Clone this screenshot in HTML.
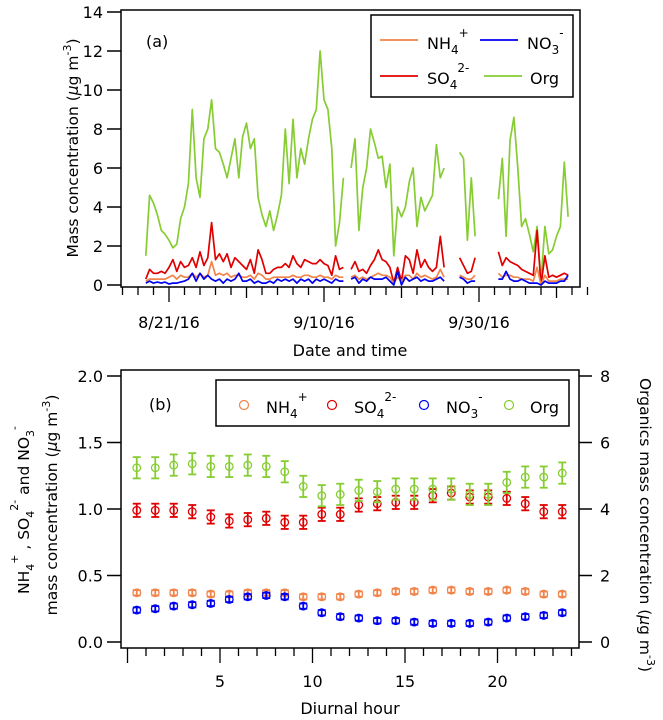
<!DOCTYPE html>
<html><head><meta charset="utf-8"><style>
body{margin:0;background:#fff;}
svg{display:block;font-family:"DejaVu Sans","Liberation Sans",sans-serif;}
</style></head><body>
<svg id="fig" width="663" height="720" viewBox="0 0 663 720" xmlns="http://www.w3.org/2000/svg">
<g id="pa"></g>
<g id="pb"></g>
</svg>
<script>
// ---------- Panel (a) data: days since 8/21/16, step 0.5 day starting at -3 ----------
const tsStartDay = -3;
const tsStepDay = 0.5;
const orgSeries = [1.5,4.6,4.2,3.6,2.8,2.6,2.3,1.9,2.1,3.4,4.0,5.2,9.0,5.5,4.5,7.5,8.0,9.5,7.0,6.8,6.2,5.5,6.5,7.5,5.5,7.6,8.3,7.0,7.5,4.5,3.6,3.0,3.8,2.8,3.6,4.6,8.0,5.2,8.5,5.5,7.0,6.2,7.5,8.5,9.0,12.0,9.5,9.0,7.0,2.0,3.2,5.5,null,6.0,7.5,2.8,5.0,6.0,8.0,7.3,6.5,6.6,5.0,6.2,1.5,4.0,3.5,4.0,5.3,6.0,3.0,4.5,3.8,4.2,4.6,7.2,5.5,6.0,null,null,null,6.8,6.5,2.3,5.5,2.5,null,null,null,null,null,4.4,6.5,2.5,7.4,8.6,6.0,3.0,3.4,2.6,1.7,3.0,0.2,3.0,1.6,1.8,2.5,3.0,6.3,3.5];
const so4Series = [0.3,0.8,0.6,0.6,0.7,0.6,0.9,1.3,0.7,1.2,0.9,1.0,1.4,0.9,1.7,1.0,1.4,3.2,1.3,1.6,1.2,1.6,0.9,1.4,1.2,1.0,0.8,1.3,0.6,1.8,1.3,0.6,0.6,0.8,0.9,0.9,1.1,0.9,1.5,1.1,0.9,1.3,1.2,1.1,1.1,1.3,1.1,1.0,0.5,1.5,0.8,0.9,null,0.8,1.2,0.7,0.8,0.6,1.0,1.3,1.8,1.3,1.2,0.9,0.1,0.9,0.2,1.5,1.3,0.6,1.8,0.9,1.3,0.9,0.7,0.9,2.5,0.9,null,null,null,1.4,1.0,0.6,0.7,1.4,null,null,null,null,null,1.7,1.0,1.4,1.2,1.1,1.0,0.8,0.7,0.6,0.5,2.8,0.0,1.5,0.4,0.5,0.4,0.5,0.6,0.5];
const nh4Series = [0.2,0.3,0.3,0.3,0.3,0.3,0.4,0.5,0.3,0.5,0.4,0.4,0.6,0.4,0.6,0.4,0.5,1.2,0.5,0.6,0.5,0.6,0.4,0.5,0.5,0.4,0.4,0.5,0.3,0.6,0.5,0.3,0.3,0.4,0.4,0.4,0.4,0.4,0.5,0.4,0.4,0.5,0.5,0.4,0.4,0.5,0.4,0.4,0.3,0.5,0.4,0.4,null,0.4,0.5,0.3,0.4,0.3,0.4,0.5,0.6,0.5,0.5,0.4,0.1,0.4,0.2,0.5,0.5,0.3,0.6,0.4,0.5,0.4,0.3,0.4,0.8,0.4,null,null,null,0.5,0.4,0.3,0.3,0.5,null,null,null,null,null,0.6,0.4,0.5,0.5,0.4,0.4,0.3,0.3,0.3,0.2,0.9,0.0,0.5,0.2,0.2,0.2,0.3,0.3,0.3];
const no3Series = [0.1,0.2,0.1,0.15,0.1,0.15,0.05,0.1,0.1,0.15,0.2,0.3,0.6,0.2,0.6,0.3,0.5,0.3,0.2,0.3,0.1,0.3,0.2,0.3,0.6,0.2,0.2,0.3,0.1,0.2,0.1,0.1,0.2,0.1,0.3,0.2,0.3,0.2,0.3,0.1,0.3,0.2,0.3,0.1,0.3,0.2,0.3,0.2,0.1,0.3,0.2,0.2,null,0.3,0.4,0.1,0.3,0.2,0.4,0.3,0.3,0.3,0.4,0.2,0.0,0.7,0.0,0.4,0.2,0.3,0.4,0.2,0.3,0.2,0.2,0.3,0.4,0.2,null,null,null,0.4,0.3,0.1,0.2,0.2,null,null,null,null,null,0.3,0.3,0.7,0.3,0.2,0.2,0.3,0.2,0.1,0.1,0.1,0.0,0.2,0.1,0.1,0.1,0.2,0.2,0.5];
const aYTicks = [0,2,4,6,8,10,12,14];
const aXLabels = ["8/21/16","9/10/16","9/30/16"];
const aXLabelDays = [0,20,40];

// ---------- Panel (b) data: diurnal hours ----------
const hours = [0.5,1.5,2.5,3.5,4.5,5.5,6.5,7.5,8.5,9.5,10.5,11.5,12.5,13.5,14.5,15.5,16.5,17.5,18.5,19.5,20.5,21.5,22.5,23.5];
const nh4Diurnal = [0.37,0.37,0.37,0.37,0.36,0.36,0.37,0.37,0.37,0.34,0.34,0.34,0.36,0.37,0.38,0.38,0.39,0.39,0.38,0.38,0.39,0.38,0.36,0.36];
const so4Diurnal = [0.99,0.99,0.99,0.98,0.94,0.91,0.92,0.93,0.90,0.90,0.96,0.96,1.03,1.04,1.05,1.05,1.10,1.12,1.09,1.09,1.08,1.04,0.98,0.98];
const no3Diurnal = [0.24,0.25,0.27,0.28,0.29,0.32,0.34,0.35,0.34,0.27,0.22,0.19,0.18,0.16,0.16,0.15,0.14,0.14,0.14,0.15,0.18,0.19,0.20,0.22];
const orgDiurnal = [5.24,5.24,5.32,5.36,5.28,5.28,5.32,5.28,5.12,4.68,4.40,4.44,4.56,4.52,4.60,4.60,4.60,4.60,4.44,4.44,4.80,4.96,4.96,5.08];
const nh4Err = 0.02, so4Err = 0.05, no3Err = 0.02, orgErr = 0.32;
const bLeftTicks = ["0.0","0.5","1.0","1.5","2.0"];
const bRightTicks = [0,2,4,6,8];
const bXTicks = [5,10,15,20];

const NS="http://www.w3.org/2000/svg";
function mk(tag, attrs, parent, text){
  const e=document.createElementNS(NS,tag);
  for(const k in attrs) e.setAttribute(k,attrs[k]);
  if(text!==undefined) e.textContent=text;
  parent.appendChild(e); return e;
}
const COL={nh4:"#f0844a",so4:"#e00000",no3:"#0000f0",org:"#86cc32"};

// ===== Panel a =====
const pa=document.getElementById('pa');
const aL=121,aR=580,aT=10,aB=287;
const ay=v=>285-19.5*v;
const ax=d=>169+7.75*d;
let e;
e=mk('rect',{x:aL,y:aT,width:aR-aL,height:aB-aT,fill:'none',stroke:'#000','stroke-width':1.5},pa);


aYTicks.forEach(v=>{
  const l=mk('line',{x1:107,x2:aL,y1:ay(v),y2:ay(v),stroke:'#000','stroke-width':1.5},pa);
  
  
  const t=mk('text',{x:103,y:ay(v)+6,'text-anchor':'end','font-size':16},pa,String(v));
  
  
});
for(let d=-6;d<=54;d+=2){
  const len = (d%20===0)?15:((d%10===0)?11:8);
  const l=mk('line',{x1:ax(d),x2:ax(d),y1:aB,y2:aB+len,stroke:'#000','stroke-width':1.3},pa);
  
  
}
aXLabels.forEach((s,i)=>{
  const t=mk('text',{x:ax(aXLabelDays[i]),y:328,'text-anchor':'middle','font-size':16},pa,s);
  
  
});
e=mk('text',{x:350,y:356,'text-anchor':'middle','font-size':16},pa,'Date and time');


e=mk('text',{transform:'translate(78,148) rotate(-90)','text-anchor':'middle','font-size':15.5},pa);
e.innerHTML='Mass concentration (<tspan font-style="italic">μ</tspan>g m<tspan dy="-7" font-size="11">-3</tspan><tspan dy="7">)</tspan>';


function seriesPath(arr){
  let d='',pen=false;
  arr.forEach((v,i)=>{
    if(v===null){pen=false;return;}
    const x=ax(tsStartDay+i*tsStepDay), y=ay(v);
    d+=(pen?'L':'M')+x.toFixed(1)+','+y.toFixed(1);
    pen=true;
  });
  return d;
}
[['org',orgSeries,'org-line'],['so4',so4Series,'so4-line'],['nh4',nh4Series,'nh4-line'],['no3',no3Series,'no3-line']].forEach(s=>{
  const p=mk('path',{d:seriesPath(s[1]),fill:'none',stroke:COL[s[0]],'stroke-width':1.7,'stroke-linejoin':'round'},pa);
  
  
});
e=mk('text',{x:146,y:47,'font-size':16},pa,'(a)');


// legend a
const lga=mk('g',{},pa);


mk('rect',{x:371,y:15,width:202,height:82,fill:'#fff',stroke:'#000','stroke-width':1.5},lga);
function legLine(x,y,c,parent){mk('line',{x1:x,x2:x+38,y1:y,y2:y,stroke:c,'stroke-width':1.7},parent);}
legLine(380,40,COL.nh4,lga);
e=mk('text',{x:427,y:49,'font-size':16},lga);e.innerHTML='NH<tspan dy="5" font-size="12">4</tspan><tspan dy="-17" font-size="12">+</tspan>';

legLine(480,40,COL.no3,lga);
e=mk('text',{x:527,y:49,'font-size':16},lga);e.innerHTML='NO<tspan dy="5" font-size="12">3</tspan><tspan dy="-17" font-size="12">-</tspan>';

legLine(380,76,COL.so4,lga);
e=mk('text',{x:427,y:84,'font-size':16},lga);e.innerHTML='SO<tspan dy="5" font-size="12">4</tspan><tspan dy="-17" font-size="12">2-</tspan>';

legLine(484,76,COL.org,lga);
e=mk('text',{x:530,y:84,'font-size':16},lga,'Org');


// ===== Panel b =====
const pb=document.getElementById('pb');
const bL=121,bR=579,bT=370,bB=648;
const by=v=>642-133*v;
const byR=v=>by(v/4);
const bx=h=>127.5+18.5*h;
e=mk('rect',{x:bL,y:bT,width:bR-bL,height:bB-bT,fill:'none',stroke:'#000','stroke-width':1.5},pb);


bLeftTicks.forEach(s=>{
  const v=parseFloat(s);
  const l=mk('line',{x1:107,x2:bL,y1:by(v),y2:by(v),stroke:'#000','stroke-width':1.5},pb);
  
  const t=mk('text',{x:103,y:by(v)+6,'text-anchor':'end','font-size':16},pb,s);
  
});
bRightTicks.forEach(v=>{
  const l=mk('line',{x1:bR,x2:592,y1:byR(v),y2:byR(v),stroke:'#000','stroke-width':1.5},pb);
  
  const t=mk('text',{x:600,y:byR(v)+6,'font-size':16},pb,String(v));
  
});
for(let h=0;h<=24;h++){
  const len=(h%5===0)?15:8;
  const l=mk('line',{x1:bx(h),x2:bx(h),y1:bB,y2:bB+len,stroke:'#000','stroke-width':1.3},pb);
  
}
bXTicks.forEach(h=>{
  const t=mk('text',{x:bx(h),y:687,'text-anchor':'middle','font-size':16},pb,String(h));
  
});
e=mk('text',{x:350,y:714,'text-anchor':'middle','font-size':16},pb,'Diurnal hour');

e=mk('text',{transform:'translate(29,510) rotate(-90)','text-anchor':'middle','font-size':15.5},pb);
e.innerHTML='NH<tspan dy="5" font-size="11">4</tspan><tspan dy="-16" font-size="11">+</tspan><tspan dy="11"> , SO</tspan><tspan dy="5" font-size="11">4</tspan><tspan dy="-16" font-size="11">2-</tspan><tspan dy="11"> and NO</tspan><tspan dy="5" font-size="11">3</tspan><tspan dy="-16" font-size="11">-</tspan>';

e=mk('text',{transform:'translate(57,505) rotate(-90)','text-anchor':'middle','font-size':15.5},pb);
e.innerHTML='mass concentration (<tspan font-style="italic">μ</tspan>g m<tspan dy="-7" font-size="11">-3</tspan><tspan dy="7">)</tspan>';

e=mk('text',{transform:'translate(640,525) rotate(90)','text-anchor':'middle','font-size':15.5},pb);
e.innerHTML='Organics mass concentration (<tspan font-style="italic">μ</tspan>g m<tspan dy="-7" font-size="11">-3</tspan><tspan dy="7">)</tspan>';


function drawDiurnal(vals,err,yf,c,name){
  const g=mk('g',{},pb);
  
  
  vals.forEach((v,i)=>{
    const x=bx(hours[i]);
    const y1=yf(v-err),y2=yf(v+err);
    mk('line',{x1:x,x2:x,y1:y1,y2:y2,stroke:c,'stroke-width':1.8},g);
    mk('line',{x1:x-4,x2:x+4,y1:y1,y2:y1,stroke:c,'stroke-width':1.8},g);
    mk('line',{x1:x-4,x2:x+4,y1:y2,y2:y2,stroke:c,'stroke-width':1.8},g);
    const m=mk('circle',{cx:x,cy:yf(v),r:3.8,fill:'none',stroke:c,'stroke-width':1.3},g);
    
    
  });
}
drawDiurnal(nh4Diurnal,nh4Err,by,COL.nh4,'nh4-diurnal');
drawDiurnal(no3Diurnal,no3Err,by,COL.no3,'no3-diurnal');
drawDiurnal(so4Diurnal,so4Err,by,COL.so4,'so4-diurnal');
drawDiurnal(orgDiurnal,orgErr,byR,COL.org,'org-diurnal');

e=mk('text',{x:149,y:410,'font-size':16},pb,'(b)');

const lgb=mk('g',{},pb);


mk('rect',{x:216,y:380,width:353,height:46,fill:'#fff',stroke:'#000','stroke-width':1.5},lgb);
function legC(x,c){mk('circle',{cx:x,cy:405,r:4.5,fill:'none',stroke:c,'stroke-width':1.2},lgb);}
legC(244,COL.nh4);
e=mk('text',{x:266,y:413,'font-size':16},lgb);e.innerHTML='NH<tspan dy="5" font-size="12">4</tspan><tspan dy="-17" font-size="12">+</tspan>';

legC(332,COL.so4);
e=mk('text',{x:354,y:413,'font-size':16},lgb);e.innerHTML='SO<tspan dy="5" font-size="12">4</tspan><tspan dy="-17" font-size="12">2-</tspan>';

legC(424,COL.no3);
e=mk('text',{x:446,y:413,'font-size':16},lgb);e.innerHTML='NO<tspan dy="5" font-size="12">3</tspan><tspan dy="-17" font-size="12">-</tspan>';

legC(509,COL.org);
e=mk('text',{x:530,y:413,'font-size':16},lgb,'Org');

</script>
</body></html>
